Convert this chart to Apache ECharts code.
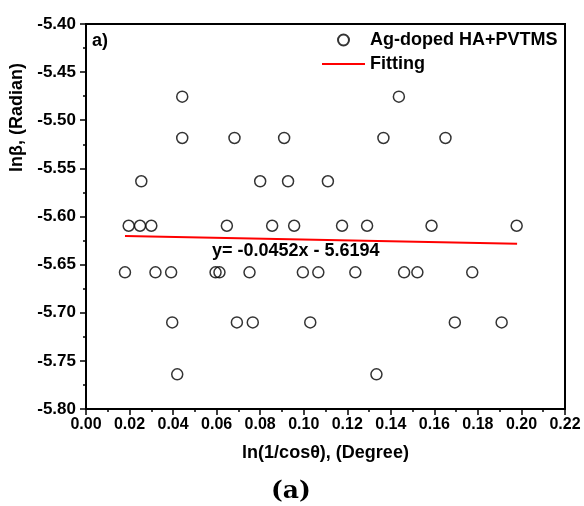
<!DOCTYPE html>
<html>
<head>
<meta charset="utf-8">
<title>ln beta vs ln(1/cos theta)</title>
<script src="https://cdn.jsdelivr.net/npm/echarts/dist/echarts.min.js"></script>
<style>
  html, body { margin: 0; padding: 0; background: #fff; }
  #chart { width: 584px; height: 506px; }
</style>
</head>
<body>
<div id="chart"></div>
<script>
// measured points (x = ln(1/cos theta), y = ln beta)
const xValues = [
  0.0179, 0.0196, 0.0248, 0.0254, 0.0300, 0.0319, 0.0391, 0.0396, 0.0419, 0.0442,
  0.0442, 0.0595, 0.0613, 0.0647, 0.0682, 0.0693, 0.0751, 0.0766, 0.0800, 0.0855,
  0.0910, 0.0928, 0.0956, 0.0996, 0.1030, 0.1067, 0.1111, 0.1176, 0.1237, 0.1291,
  0.1334, 0.1366, 0.1437, 0.1461, 0.1522, 0.1587, 0.1651, 0.1694, 0.1774, 0.1909,
  0.1978
];
const yValues = [
  -5.6580, -5.6096, -5.6096, -5.5634, -5.6096, -5.6580, -5.6580, -5.7100, -5.7640, -5.4755,
  -5.5184, -5.6580, -5.6580, -5.6096, -5.5184, -5.7100, -5.6580, -5.7100, -5.5634, -5.6096,
  -5.5184, -5.5634, -5.6096, -5.6580, -5.7100, -5.6580, -5.5634, -5.6096, -5.6580, -5.6096,
  -5.7640, -5.5184, -5.4755, -5.6580, -5.6580, -5.6096, -5.5184, -5.7100, -5.6580, -5.7100,
  -5.6096
];

// linear fit end points
const fitX = [0.0179, 0.1980];
const fitY = [-5.6202, -5.6284];

const xTicks = { min: 0, max: 0.22, step: 0.02 };
const yTicks = { min: -5.80, max: -5.40, step: 0.05 };

const seriesNames = ['Ag-doped HA+PVTMS', 'Fitting'];
const equationText = 'y= -0.0452x - 5.6194';

const font = 'Liberation Sans, Arial, sans-serif';

let pts = []
for (let i = 0; i < xValues.length; i++) {
  pts.push([xValues[i], yValues[i]])
}
let fitLine = fitX.map((x, i) => [x, fitY[i]])

const chart = echarts.init(document.getElementById('chart'), null, { renderer: 'canvas' })

chart.setOption({
  animation: false,
  backgroundColor: '#ffffff',
  textStyle: { fontFamily: font, color: '#000' },
  grid: {
    left: 86,
    right: 19,
    top: 24,
    bottom: 97,
    containLabel: false,
    outerBoundsMode: 'none',
    show: true,
    borderColor: '#000',
    borderWidth: 2
  },
  xAxis: {
    type: 'value',
    min: xTicks.min,
    max: xTicks.max,
    interval: xTicks.step,
    name: 'ln(1/cosθ), (Degree)',
    nameLocation: 'middle',
    nameGap: 35,
    nameTextStyle: { fontSize: 18, fontWeight: 'bold', color: '#000', fontFamily: font },
    axisLine: { lineStyle: { color: '#000', width: 2 } },
    axisTick: { show: true, inside: false, length: 6, lineStyle: { color: '#000', width: 1.5 } },
    minorTick: { show: true, splitNumber: 2, length: 3, lineStyle: { color: '#000', width: 1.5 } },
    splitLine: { show: false },
    axisLabel: {
      margin: 8,
      fontSize: 16,
      fontWeight: 'bold',
      color: '#000',
      fontFamily: font,
      formatter: v => v.toFixed(2)
    }
  },
  yAxis: {
    type: 'value',
    min: yTicks.min,
    max: yTicks.max,
    interval: yTicks.step,
    name: 'lnβ, (Radian)',
    nameLocation: 'middle',
    nameGap: 53,
    nameRotate: 90,
    nameTextStyle: {
      fontSize: 18, fontWeight: 'bold', color: '#000', fontFamily: font,
      padding: [0, 0, 0, 198]
    },
    axisLine: { lineStyle: { color: '#000', width: 2 } },
    axisTick: { show: true, inside: false, length: 6, lineStyle: { color: '#000', width: 1.5 } },
    minorTick: { show: true, splitNumber: 2, length: 3, lineStyle: { color: '#000', width: 1.5 } },
    splitLine: { show: false },
    axisLabel: {
      margin: 10,
      fontSize: 17,
      fontWeight: 'bold',
      color: '#000',
      fontFamily: font,
      formatter: v => v.toFixed(2)
    }
  },
  legend: {
    orient: 'vertical',
    left: 317,
    top: 26,
    itemWidth: 43,
    itemHeight: 11,
    itemGap: 6,
    textStyle: { fontSize: 18, fontWeight: 'bold', color: '#000', fontFamily: font },
    data: [
      { name: seriesNames[0], icon: 'circle' },
      // plain red bar, no marker in the middle
      { name: seriesNames[1], icon: 'path://M0,0L43,0L43,2L0,2Z' }
    ]
  },
  graphic: [
    {
      type: 'text',
      left: 92,
      top: 32,
      style: { text: 'a)', fontSize: 18, fontWeight: 'bold', fill: '#000', fontFamily: font }
    },
    {
      type: 'text',
      left: 212,
      top: 242,
      z: 10,
      style: { text: equationText, fontSize: 18, fontWeight: 'bold', fill: '#000', fontFamily: font }
    },
    {
      type: 'text',
      left: 271,
      top: 479,
      style: { text: '(a)', fontSize: 25, fontWeight: 'bold', fill: '#000', fontFamily: 'DejaVu Serif, Liberation Serif, serif' }
    }
  ],
  series: [
    {
      name: seriesNames[0],
      type: 'scatter',
      symbol: 'circle',
      symbolSize: 11,
      itemStyle: { color: 'rgba(255,255,255,0)', borderColor: '#000', borderWidth: 1.5 },
      data: pts,
      z: 3
    },
    {
      name: seriesNames[1],
      type: 'line',
      symbol: 'none',
      lineStyle: { color: '#ff0000', width: 2 },
      itemStyle: { color: '#ff0000' },
      data: fitLine,
      z: 2
    }
  ]
})
</script>
</body>
</html>
